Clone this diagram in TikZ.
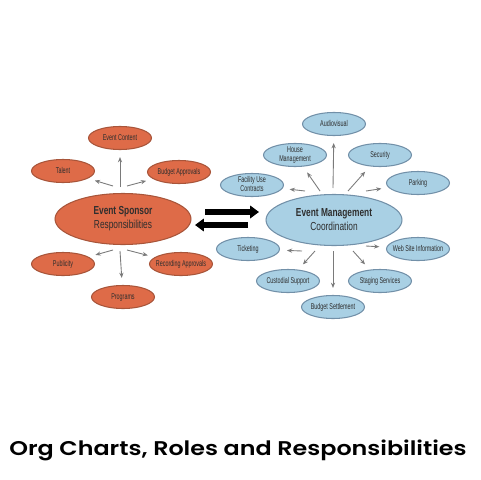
\documentclass[tikz,border=0pt]{standalone}
\usepackage{fontspec}
\setmainfont{Liberation Sans}
\newfontfamily\narrowfont[FakeStretch=0.72]{Liberation Sans}
\newfontfamily\ovalfont[FakeStretch=0.64]{Liberation Sans}
\newfontfamily\titlefont{Poppins}[UprightFont=* SemiBold, FakeStretch=1.2]
\usetikzlibrary{arrows.meta,shapes.geometric}
\definecolor{sponsorfill}{HTML}{DE6B48}
\definecolor{sponsorline}{HTML}{A8553A}
\definecolor{mgmtfill}{HTML}{A9D0E4}
\definecolor{mgmtline}{HTML}{7290A8}
\definecolor{arrowgray}{HTML}{7A7A7A}
\definecolor{labeltext}{HTML}{2E2E2E}
\newcommand\ovaltext[1]{\smash{\raisebox{-1.4pt}{\makebox[0pt]{\begin{tabular}{@{}c@{}}#1\end{tabular}}}}}
\tikzset{
  task/.style={ellipse, draw, line width=0.6pt, inner sep=0pt,
    minimum width=1.26cm, minimum height=0.46cm,
    text=labeltext, font=\ovalfont\fontsize{4.8}{5.4}\selectfont},
  hub/.style={task, minimum width=2.72cm, minimum height=1.02cm, align=center,
    font=\narrowfont\fontsize{6.6}{8}\selectfont},
  sponsor/.style={fill=sponsorfill, draw=sponsorline},
  mgmt/.style={fill=mgmtfill, draw=mgmtline},
  link/.style={-{Stealth[length=3pt,width=2.4pt]}, arrowgray, line width=0.5pt,
    shorten >=4pt},
  swap/.style={-{Triangle[length=5pt,width=7pt]}, line width=3.4pt, black}
}
\begin{document}
\begin{tikzpicture}[x=0.02cm, y=-0.02cm]
  \useasboundingbox (0,0) rectangle (480,480);

  \node[hub, sponsor]  (spon) at (123,219) {\textbf{Event Sponsor}\\Responsibilities};
  \node[task, sponsor] (cont) at (120,138) {\ovaltext{Event Content}};
  \node[task, sponsor] (tal)  at (63,171)  {\ovaltext{Talent}};
  \node[task, sponsor] (bud)  at (179,172) {\ovaltext{Budget Approvals}};
  \node[task, sponsor] (pub)  at (63,264)  {\ovaltext{Publicity}};
  \node[task, sponsor] (rec)  at (181,264) {\ovaltext{Recording Approvals}};
  \node[task, sponsor] (prog) at (123,297) {\ovaltext{Programs}};

  \node[hub, mgmt]  (coord) at (334,220) {\textbf{Event Management}\\Coordination};
  \node[task, mgmt] (av)    at (334,124) {\ovaltext{Audiovisual}};
  \node[task, mgmt] (house) at (295,155) {\ovaltext{House\\Management}};
  \node[task, mgmt] (sec)   at (380,155) {\ovaltext{Security}};
  \node[task, mgmt] (fac)   at (252,185) {\ovaltext{Facility Use\\Contracts}};
  \node[task, mgmt] (park)  at (418,183) {\ovaltext{Parking}};
  \node[task, mgmt] (tick)  at (248,249) {\ovaltext{Ticketing}};
  \node[task, mgmt] (web)   at (418,249) {\ovaltext{Web Site Information}};
  \node[task, mgmt] (cust)  at (288,281) {\ovaltext{Custodial Support}};
  \node[task, mgmt] (stage) at (380,281) {\ovaltext{Staging Services}};
  \node[task, mgmt] (sett)  at (333,307) {\ovaltext{Budget Settlement}};

  % arrow tails sit just off the hub ellipses
  \foreach \n/\x/\y in {cont/120/187, tal/113/186, bud/127/186,
                        pub/113/250, rec/127/250, prog/120/251,
                        av/333/188, house/320/191, sec/348/191, fac/305/191,
                        park/366/191, tick/302/251, cust/315/251,
                        sett/333/251, stage/353/251, web/366/246}
  {
    \coordinate (\n-tail) at (\x,\y);
    \draw[link] (\n-tail) -- (\n);
  }

  \coordinate (toright) at (205,212);
  \coordinate (atright) at (259,212);
  \coordinate (toleft)  at (248,225);
  \coordinate (atleft)  at (195,225);
  \draw[swap] (toright) -- (atright);
  \draw[swap] (toleft) -- (atleft);

  \node[font=\titlefont\fontsize{11.3}{13}\selectfont, anchor=base] (title)
    at (238,455) {Org Charts, Roles and Responsibilities};
\end{tikzpicture}
\end{document}
